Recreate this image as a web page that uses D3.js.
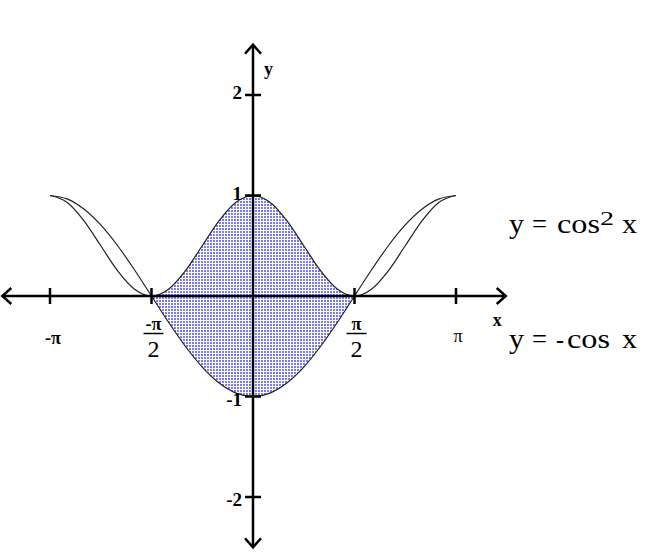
<!DOCTYPE html>
<html lang="en">
<head>
<meta charset="utf-8">
<title>y = cos^2 x and y = -cos x</title>
<script src="https://cdn.jsdelivr.net/npm/d3@7/dist/d3.min.js"></script>
<style>
  body { margin: 0; background: #fff; }
  svg text { font-family: "Liberation Serif", "Times New Roman", serif; fill: #000; }
</style>
</head>
<body>
<div id="chart"></div>
<script>
// x positions in units of pi (step pi/12)
var xs = [-1, -11/12, -10/12, -9/12, -8/12, -7/12, -6/12, -5/12, -4/12, -3/12, -2/12, -1/12, 0,
          1/12, 2/12, 3/12, 4/12, 5/12, 6/12, 7/12, 8/12, 9/12, 10/12, 11/12, 1];
// y = cos^2 x
var cosSq = [1, 0.933, 0.75, 0.5, 0.25, 0.067, 0, 0.067, 0.25, 0.5, 0.75, 0.933, 1,
             0.933, 0.75, 0.5, 0.25, 0.067, 0, 0.067, 0.25, 0.5, 0.75, 0.933, 1];
// y = -cos x
var negCos = [1, 0.966, 0.866, 0.707, 0.5, 0.259, 0, -0.259, -0.5, -0.707, -0.866, -0.966, -1,
              -0.966, -0.866, -0.707, -0.5, -0.259, 0, 0.259, 0.5, 0.707, 0.866, 0.966, 1];

var xTicks = [-1, -0.5, 0.5, 1];
var yTicks = [-2, -1, 1, 2];
var yTickLabels = ["-2", "-1", "1", "2"];

var width = 666, height = 555;

var svg = d3.select("#chart").append("svg")
    .attr("width", width)
    .attr("height", height);

var x = d3.scaleLinear().domain([-1, 1]).range([50, 456]);
var y = d3.scaleLinear().domain([-2, 2]).range([497, 95]);

var x0 = x(0), y0 = y(0);

// dotted blue fill pattern
var defs = svg.append("defs");
var pat = defs.append("pattern")
    .attr("id", "dots")
    .attr("patternUnits", "userSpaceOnUse")
    .attr("width", 3).attr("height", 3);
pat.append("rect").attr("width", 3).attr("height", 3).attr("fill", "#ffffff");
pat.append("rect").attr("width", 2).attr("height", 2).attr("fill", "#7a7aff");

// shaded region between the curves on [-pi/2, pi/2]
var pts = xs.map(function(v, i) { return {x: v, a: cosSq[i], b: negCos[i]}; })
    .filter(function(d) { return d.x >= -0.5 && d.x <= 0.5; });

var area = d3.area()
    .x(function(d) { return x(d.x); })
    .y0(function(d) { return y(d.b); })
    .y1(function(d) { return y(d.a); })
    .curve(d3.curveMonotoneX);

svg.append("path")
    .datum(pts)
    .attr("d", area)
    .attr("fill", "url(#dots)")
    .attr("stroke", "none");

// curves
var line = d3.line()
    .x(function(d) { return x(d[0]); })
    .y(function(d) { return y(d[1]); })
    .curve(d3.curveMonotoneX);

[cosSq, negCos].forEach(function(ys) {
  svg.append("path")
      .datum(xs.map(function(v, i) { return [v, ys[i]]; }))
      .attr("d", line)
      .attr("fill", "none")
      .attr("stroke", "#222")
      .attr("stroke-width", 1.2);
});

// axes
var axisG = svg.append("g")
    .attr("stroke", "#000")
    .attr("stroke-width", 2.5)
    .attr("fill", "none");

var xl = x(-1.235), xr = x(1.245);
var yt = y(2.5), yb = y(-2.5);

axisG.append("line").attr("x1", xl).attr("x2", xr).attr("y1", y0).attr("y2", y0);
axisG.append("line").attr("x1", x0).attr("x2", x0).attr("y1", yt).attr("y2", yb);

// arrow heads
var ah = 9, aw = 8;
axisG.append("path").attr("d", "M" + (xl + ah) + "," + (y0 - aw) + "L" + xl + "," + y0 + "L" + (xl + ah) + "," + (y0 + aw));
axisG.append("path").attr("d", "M" + (xr - ah) + "," + (y0 - aw) + "L" + xr + "," + y0 + "L" + (xr - ah) + "," + (y0 + aw));
axisG.append("path").attr("d", "M" + (x0 - aw) + "," + (yt + ah) + "L" + x0 + "," + yt + "L" + (x0 + aw) + "," + (yt + ah));
axisG.append("path").attr("d", "M" + (x0 - aw) + "," + (yb - ah) + "L" + x0 + "," + yb + "L" + (x0 + aw) + "," + (yb - ah));

// ticks
axisG.selectAll(".xt").data(xTicks).enter().append("line")
    .attr("x1", function(d) { return x(d); }).attr("x2", function(d) { return x(d); })
    .attr("y1", y0 - 8).attr("y2", y0 + 8);
axisG.selectAll(".yt").data(yTicks).enter().append("line")
    .attr("y1", function(d) { return y(d); }).attr("y2", function(d) { return y(d); })
    .attr("x1", x0 - 8).attr("x2", x0 + 8);

// y tick labels
svg.selectAll(".ylab").data(yTicks).enter().append("text")
    .attr("x", x0 - 11)
    .attr("y", function(d) { return y(d) + (d > 0 ? 4 : 9); })
    .attr("text-anchor", "end")
    .attr("font-size", 19)
    .attr("font-weight", "bold")
    .text(function(d, i) { return yTickLabels[i]; });

// x tick labels: -pi, pi
svg.append("text").attr("x", x(-1) + 3).attr("y", y0 + 48)
    .attr("text-anchor", "middle").attr("font-size", 18).attr("font-weight", "bold").text("-\u03c0");
svg.append("text").attr("x", x(1) + 2).attr("y", y0 + 46)
    .attr("text-anchor", "middle").attr("font-size", 18).text("\u03c0");

// fractions -pi/2 and pi/2
[{v: -0.5, t: "-\u03c0"}, {v: 0.5, t: "\u03c0"}].forEach(function(f) {
  var cx = x(f.v) + 2;
  svg.append("text").attr("x", cx).attr("y", y0 + 34)
      .attr("text-anchor", "middle").attr("font-size", 18).attr("font-weight", "bold").text(f.t);
  svg.append("line").attr("x1", cx - 10).attr("x2", cx + 10)
      .attr("y1", y0 + 37.5).attr("y2", y0 + 37.5)
      .attr("stroke", "#000").attr("stroke-width", 1.5);
  svg.append("text").attr("x", cx).attr("y", y0 + 61)
      .attr("text-anchor", "middle").attr("font-size", 24).text("2");
});

// axis names
svg.append("text").attr("x", x0 + 11).attr("y", 75).attr("font-size", 18).attr("font-weight", "bold").text("y");
svg.append("text").attr("x", xr - 13).attr("y", y0 + 30).attr("font-size", 18).attr("font-weight", "bold").text("x");

// equation labels, placed piece by piece
function piece(px, py, txt, w, size) {
  var t = svg.append("text").attr("x", px).attr("y", py)
      .attr("font-size", size || 27).text(txt);
  if (w) t.attr("textLength", w).attr("lengthAdjust", "spacingAndGlyphs");
  return t;
}
piece(509, 233, "y", 15);
piece(532, 233, "=", 15);
piece(557, 233, "cos", 43);
piece(600, 225, "2", 14, 19).attr("font-family", "Liberation Sans, Arial, sans-serif");
piece(622, 233, "x", 15);

piece(509, 348, "y", 15);
piece(532, 348, "=", 15);
piece(556, 348, "-", 8);
piece(567, 348, "cos", 43);
piece(622, 348, "x", 15);
</script>
</body>
</html>
